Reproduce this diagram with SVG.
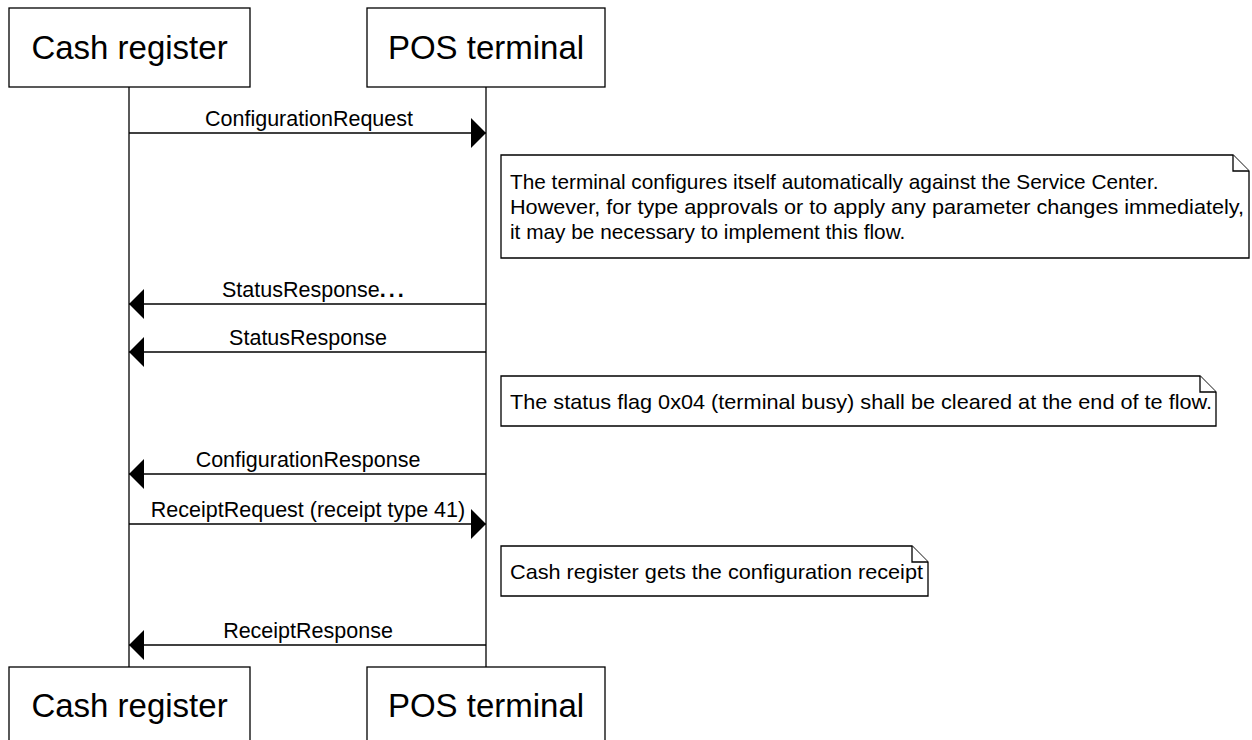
<svg xmlns="http://www.w3.org/2000/svg" width="1252" height="740" viewBox="0 0 1252 740">
<style>
.box{fill:#fff;stroke:#000;stroke-width:1.3}
.title{font-family:"Liberation Sans",Arial,sans-serif;font-size:33px;fill:#000;text-anchor:middle}
.lbl{font-family:"Liberation Sans",Arial,sans-serif;font-size:21.5px;fill:#000;text-anchor:middle}
.ntxt{font-family:"Liberation Sans",Arial,sans-serif;font-size:20.8px;fill:#000}
.life{stroke:#000;stroke-width:1.3;fill:none}
.msg{stroke:#000;stroke-width:1.3;fill:none;marker-end:url(#ah)}
.note{fill:#fff;stroke:#000;stroke-width:1.3}
</style>
<defs>
<marker id="ah" markerUnits="userSpaceOnUse" markerWidth="16" markerHeight="30" viewBox="0 0 16 30" refX="15" refY="15" orient="auto">
<path d="M0,0 L15,15 L0,30 Z" fill="#000"/>
</marker>
</defs>
<rect width="1252" height="740" fill="#fff"/>
<g id="connectors">
<line class="life" x1="129" y1="87" x2="129" y2="667"/>
<line class="life" x1="486" y1="87" x2="486" y2="667"/>
<line class="msg" x1="129" y1="133" x2="486" y2="133"/>
<text class="lbl" x="309" y="126">ConfigurationRequest</text>
<line class="msg" x1="486" y1="304" x2="129" y2="304"/>
<text class="lbl" x="222" y="297" style="text-anchor:start">StatusResponse<tspan font-weight="bold" letter-spacing="3">...</tspan></text>
<line class="msg" x1="486" y1="352" x2="129" y2="352"/>
<text class="lbl" x="308" y="345">StatusResponse</text>
<line class="msg" x1="486" y1="474" x2="129" y2="474"/>
<text class="lbl" x="308" y="467">ConfigurationResponse</text>
<line class="msg" x1="129" y1="524" x2="486" y2="524"/>
<text class="lbl" x="308" y="517">ReceiptRequest (receipt type 41)</text>
<line class="msg" x1="486" y1="645" x2="129" y2="645"/>
<text class="lbl" x="308" y="638">ReceiptResponse</text>
</g>
<g id="cash-top">
<rect class="box" x="9" y="8" width="241" height="79"/>
<text class="title" x="129.5" y="59">Cash register</text>
</g>
<g id="pos-top">
<rect class="box" x="367" y="8" width="238" height="79"/>
<text class="title" x="486" y="59">POS terminal</text>
</g>
<g id="note1">
<path class="note" d="M501,155 H1233 L1249,171 V258 H501 Z"/>
<path class="note" d="M1233,155 V171 H1249"/>
<text class="ntxt" x="510" y="189">The terminal configures itself automatically against the Service Center.</text>
<text class="ntxt" x="510" y="214" textLength="734" lengthAdjust="spacingAndGlyphs">However, for type approvals or to apply any parameter changes immediately,</text>
<text class="ntxt" x="510" y="239">it may be necessary to implement this flow.</text>
</g>
<g id="note2">
<path class="note" d="M501,376 H1200 L1216,392 V426 H501 Z"/>
<path class="note" d="M1200,376 V392 H1216"/>
<text class="ntxt" x="510" y="409" textLength="702" lengthAdjust="spacingAndGlyphs">The status flag 0x04 (terminal busy) shall be cleared at the end of te flow.</text>
</g>
<g id="note3">
<path class="note" d="M501,546 H912 L928,562 V596 H501 Z"/>
<path class="note" d="M912,546 V562 H928"/>
<text class="ntxt" x="510" y="579" textLength="413" lengthAdjust="spacingAndGlyphs">Cash register gets the configuration receipt</text>
</g>
<g id="cash-bottom">
<rect class="box" x="9" y="667" width="241" height="90"/>
<text class="title" x="129.5" y="717">Cash register</text>
</g>
<g id="pos-bottom">
<rect class="box" x="367" y="667" width="238" height="90"/>
<text class="title" x="486" y="717">POS terminal</text>
</g>
</svg>
